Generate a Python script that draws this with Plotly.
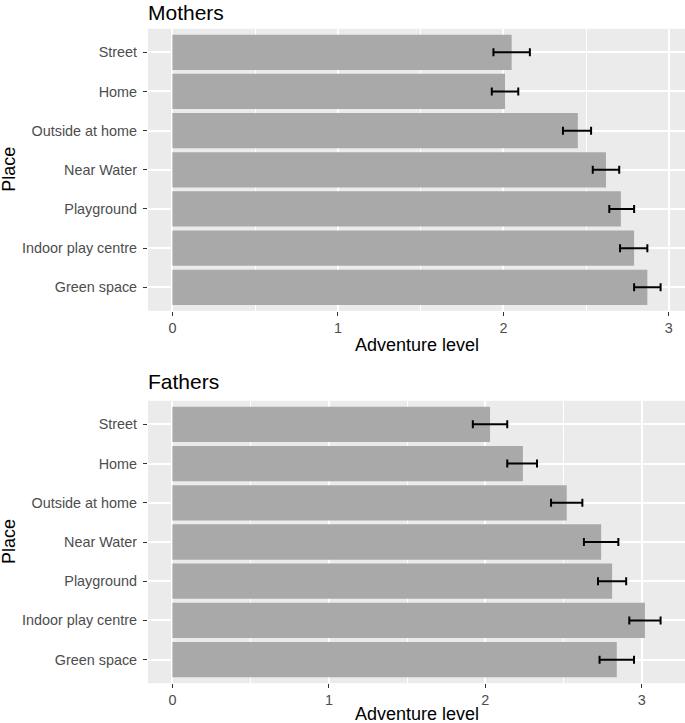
import plotly.graph_objects as go

places = ["Green space", "Indoor play centre", "Playground", "Near Water",
          "Outside at home", "Home", "Street"]

mothers_mean = [2.87, 2.79, 2.71, 2.62, 2.45, 2.01, 2.05]
mothers_low = [2.79, 2.705, 2.64, 2.54, 2.36, 1.93, 1.94]
mothers_high = [2.95, 2.87, 2.79, 2.70, 2.53, 2.09, 2.16]

fathers_mean = [2.84, 3.02, 2.81, 2.74, 2.52, 2.24, 2.03]
fathers_low = [2.73, 2.92, 2.72, 2.63, 2.42, 2.14, 1.92]
fathers_high = [2.95, 3.12, 2.90, 2.85, 2.62, 2.33, 2.14]

W, H = 685, 723
FONT = "Liberation Sans, Arial, Helvetica, sans-serif"
BAR = "#A9A9A9"
PANEL = "#EBEBEB"


def err(mean, low, high):
    return dict(type="data", symmetric=False,
                array=[h - m for m, h in zip(mean, high)],
                arrayminus=[m - l for m, l in zip(mean, low)],
                color="black", thickness=2, width=4)


fig = go.Figure()
fig.add_trace(go.Bar(x=mothers_mean, y=places, orientation="h", marker_color=BAR,
                     marker_line_width=0, error_x=err(mothers_mean, mothers_low, mothers_high),
                     xaxis="x", yaxis="y", showlegend=False))
fig.add_trace(go.Bar(x=fathers_mean, y=places, orientation="h", marker_color=BAR,
                     marker_line_width=0, error_x=err(fathers_mean, fathers_low, fathers_high),
                     xaxis="x2", yaxis="y2", showlegend=False))

xdom = [148 / W, 1.0]
ydom_top = [1 - 310.8 / H, 1 - 28.8 / H]
ydom_bot = [1 - 683.2 / H, 1 - 400.8 / H]


def xaxis(anchor, rng):
    return dict(domain=xdom, anchor=anchor, range=rng, tickvals=[0, 1, 2, 3],
                showgrid=True, gridcolor="white", gridwidth=1.5, zeroline=False,
                minor=dict(dtick=0.5, tick0=0, showgrid=True, gridcolor="white", gridwidth=0.7),
                ticks="outside", ticklen=4, tickwidth=1.1, tickcolor="#333333",
                tickfont=dict(family=FONT, size=14.4, color="#4D4D4D"),
                showline=False, automargin=False)


def yaxis(anchor, dom):
    return dict(domain=dom, anchor=anchor, type="category", categoryorder="array",
                categoryarray=places, range=[-0.6, 6.6],
                showgrid=True, gridcolor="white", gridwidth=1.5, zeroline=False,
                ticks="outside", ticklen=4, tickwidth=1.1, tickcolor="#333333",
                tickfont=dict(family=FONT, size=14.4, color="#4D4D4D"),
                ticklabelstandoff=3, showline=False, automargin=False)


fig.update_layout(
    width=W, height=H,
    margin=dict(l=0, r=0, t=0, b=0, autoexpand=False),
    paper_bgcolor="white", plot_bgcolor=PANEL,
    bargap=0.1,
    xaxis=xaxis("y", [-0.1475, 3.0975]),
    yaxis=yaxis("x", ydom_top),
    xaxis2=xaxis("y2", [-0.156, 3.276]),
    yaxis2=yaxis("x2", ydom_bot),
    font=dict(family=FONT, color="black"),
)

annotations = [
    dict(text="Mothers", x=147 / W, y=1.0, xanchor="left", yanchor="top", size=21),
    dict(text="Fathers", x=147 / W, y=1 - 369 / H, xanchor="left", yanchor="top", size=21),
    dict(text="Adventure level", x=(148 + 685) / 2 / W, y=1 - 345 / H, xanchor="center", yanchor="middle", size=18),
    dict(text="Adventure level", x=(148 + 685) / 2 / W, y=1 - 714 / H, xanchor="center", yanchor="middle", size=18),
    dict(text="Place", x=9 / W, y=1 - 169.8 / H, xanchor="center", yanchor="middle", size=18, angle=-90),
    dict(text="Place", x=9 / W, y=1 - 542 / H, xanchor="center", yanchor="middle", size=18, angle=-90),
]
for a in annotations:
    fig.add_annotation(text=a["text"], x=a["x"], y=a["y"], xref="paper", yref="paper",
                       xanchor=a["xanchor"], yanchor=a["yanchor"], showarrow=False,
                       textangle=a.get("angle", 0), borderpad=0,
                       font=dict(family=FONT, size=a["size"], color="black"))

fig.write_html("out.html", config={"displayModeBar": False},
               post_script="document.body.style.margin='0';document.body.style.overflow='hidden';")
